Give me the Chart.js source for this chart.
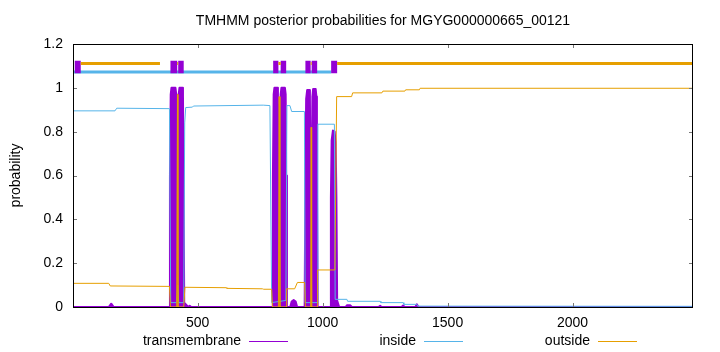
<!DOCTYPE html>
<html>
<head>
<meta charset="utf-8">
<script src="https://cdn.jsdelivr.net/npm/chart.js@4.4.0/dist/chart.umd.min.js"></script>
<style>
  html, body { margin: 0; padding: 0; background: #fff; }
  #wrap { width: 720px; height: 352px; }
</style>
</head>
<body>
<div id="wrap"><canvas id="chart" width="720" height="352"></canvas></div>
<script>
// TMHMM posterior probabilities
const titleText = 'TMHMM posterior probabilities for MGYG000000665_00121';
const seqLength = 2482;
const xTicks = [500, 1000, 1500, 2000];
const yTicks = [0, 0.2, 0.4, 0.6, 0.8, 1, 1.2];

// predicted topology (residue ranges)
const tmSegments = [[8, 32], [391, 418], [422, 444], [802, 823], [832, 854], [931, 952], [956, 978], [1034, 1058]];
const insideSegments = [[1, 1034]];
const outsideSegments = [[32, 349], [418, 422], [823, 832], [952, 956], [1058, 2482]];

// posterior probability curves [residue, probability]
const tmProb = [
  [1, 0], [144, 0], [154, 0.015], [164, 0], [386, 0], [389, 0.6], [392, 0.97], [395, 1], [411, 1], [414, 0.97],
  [416, 0.6], [419, 0.01], [421, 0.6], [424, 0.97], [427, 1], [438, 1], [441, 0.97], [443, 0.6], [446, 0.02],
  [462, 0], [468, 0.006], [474, 0],
  [799, 0], [801, 0.6], [804, 0.97], [807, 1], [818, 1], [821, 0.97], [823, 0.6], [826, 0.01], [829, 0.6],
  [832, 0.97], [835, 1], [849, 1], [852, 0.97], [854, 0.6], [857, 0],
  [870, 0], [876, 0.025], [884, 0.032], [892, 0.025], [898, 0],
  [928, 0], [931, 0.6], [934, 0.95], [938, 0.99], [946, 0.99], [949, 0.95], [951, 0.6], [954, 0.05], [956, 0.6],
  [959, 0.96], [962, 0.995], [972, 0.995], [975, 0.96], [977, 0.6], [980, 0],
  [1030, 0], [1033, 0.5], [1036, 0.76], [1041, 0.805], [1048, 0.8], [1052, 0.75], [1055, 0.5], [1058, 0.03],
  [1066, 0], [1092, 0], [1097, 0.008], [1110, 0.008], [1117, 0], [1224, 0], [1230, 0.006], [1236, 0], [1316, 0],
  [1322, 0.007], [1328, 0], [1371, 0], [1377, 0.012], [1383, 0], [2482, 0]
];
const insideProb = [
  [1, 0.895], [169, 0.895], [176, 0.907], [387, 0.905], [392, 0.02], [416, 0.02], [420, 0.1], [424, 0.02],
  [444, 0.02], [448, 0.84], [452, 0.91], [479, 0.912], [483, 0.917], [762, 0.921], [789, 0.919], [796, 0.02],
  [853, 0.03], [857, 0.919], [869, 0.919], [876, 0.892], [927, 0.892], [930, 0.02], [978, 0.02], [981, 0.834],
  [1047, 0.834], [1050, 0.035], [1097, 0.035], [1100, 0.026], [1230, 0.026], [1233, 0.02], [1322, 0.02],
  [1325, 0.012], [1377, 0.012], [1381, 0.004], [2482, 0.003]
];
const outsideProb = [
  [1, 0.108], [144, 0.108], [150, 0.096], [387, 0.094], [391, 0], [416, 0], [419, 0.97], [421, 0], [444, 0],
  [449, 0.09], [614, 0.088], [617, 0.085], [759, 0.083], [764, 0.081], [796, 0.081], [799, 0], [823, 0],
  [826, 0.96], [829, 0], [854, 0], [856, 0.083], [888, 0.083], [899, 0.112], [928, 0.112], [931, 0], [952, 0],
  [954, 0.82], [956, 0], [978, 0], [980, 0.169], [1049, 0.169], [1056, 0.96], [1116, 0.96], [1120, 0.977],
  [1237, 0.977], [1241, 0.985], [1329, 0.985], [1332, 0.991], [1387, 0.991], [1390, 0.998], [2482, 0.998]
];

const tmColor = '#9400d3';
const insideColor = '#56b4e9';
const outsideColor = '#e69f00';
const font = '"Liberation Sans", Arial, sans-serif';

const toPoints = pairs => pairs.map(([x, y]) => ({ x, y }));
const segmentPoints = (segs, level) =>
  segs.flatMap(([a, b]) => [{ x: a, y: level }, { x: b, y: level }, { x: b, y: null }]);

const frame = {
  id: 'frame',
  afterDraw(chart) {
    const { ctx, chartArea: a, scales: { x, y } } = chart;
    ctx.save();
    ctx.strokeStyle = '#777';
    ctx.lineWidth = 1;
    ctx.beginPath();
    xTicks.forEach(v => {
      const px = Math.round(x.getPixelForValue(v)) + 0.5;
      ctx.moveTo(px, a.bottom); ctx.lineTo(px, a.bottom - 4);
      ctx.moveTo(px, a.top); ctx.lineTo(px, a.top + 4);
    });
    yTicks.forEach(v => {
      const py = Math.round(y.getPixelForValue(v)) + 0.5;
      ctx.moveTo(a.left, py); ctx.lineTo(a.left + 4, py);
      ctx.moveTo(a.right, py); ctx.lineTo(a.right - 4, py);
    });
    ctx.stroke();
    ctx.strokeStyle = '#000';
    ctx.strokeRect(a.left + 0.5, a.top + 0.5, a.right - a.left - 1, a.bottom - a.top);

    ctx.fillStyle = '#000';
    ctx.font = '14px ' + font;
    ctx.textAlign = 'center';
    ctx.textBaseline = 'middle';
    ctx.fillText(titleText, (a.left + a.right) / 2, 21);

    // legend, gnuplot style: text then sample
    const items = [['transmembrane', tmColor, 249], ['inside', insideColor, 424], ['outside', outsideColor, 598]];
    ctx.textAlign = 'right';
    items.forEach(([label, color, sx]) => {
      ctx.fillStyle = '#000';
      ctx.fillText(label, sx - 8, 341);
      ctx.strokeStyle = color;
      ctx.beginPath();
      ctx.moveTo(sx, 341.5); ctx.lineTo(sx + 39, 341.5);
      ctx.stroke();
    });

    ctx.translate(16, (a.top + a.bottom) / 2);
    ctx.rotate(-Math.PI / 2);
    ctx.textAlign = 'center';
    ctx.fillStyle = '#000';
    ctx.fillText('probability', 0, 0);
    ctx.restore();
  }
};

new Chart(document.getElementById('chart'), {
  type: 'line',
  data: {
    datasets: [
      { label: 'outside top', data: segmentPoints(outsideSegments, 1.111), borderColor: outsideColor, borderWidth: 3, order: 0 },
      { label: 'tm top', data: segmentPoints(tmSegments, 1.095), borderColor: tmColor, borderWidth: 12.6, order: 1 },
      { label: 'inside top', data: segmentPoints(insideSegments, 1.072), borderColor: insideColor, borderWidth: 3, order: 2 },
      { label: 'outside', data: toPoints(outsideProb), borderColor: outsideColor, borderWidth: 1, order: 3 },
      { label: 'inside', data: toPoints(insideProb), borderColor: insideColor, borderWidth: 1, order: 4 },
      { label: 'transmembrane', data: toPoints(tmProb), borderColor: tmColor, backgroundColor: tmColor,
        borderWidth: 2, fill: 'origin', order: 5 }
    ]
  },
  options: {
    responsive: false,
    animation: false,
    events: [],
    spanGaps: false,
    elements: { point: { radius: 0 }, line: { tension: 0, borderJoinStyle: 'round' } },
    layout: { padding: { top: 44, right: 27, bottom: 0, left: 0 } },
    plugins: { legend: { display: false }, tooltip: { enabled: false }, title: { display: false } },
    scales: {
      x: {
        type: 'linear', min: 1, max: seqLength,
        grid: { display: false, drawTicks: false },
        border: { display: false },
        afterBuildTicks: s => { s.ticks = xTicks.map(v => ({ value: v })); },
        afterFit: s => { s.height = 45; },
        ticks: { padding: 8, color: '#000', font: { family: font, size: 14 }, maxRotation: 0,
          callback: v => String(v) }
      },
      y: {
        min: 0, max: 1.2,
        grid: { display: false, drawTicks: false },
        border: { display: false },
        afterBuildTicks: s => { s.ticks = yTicks.map(v => ({ value: v })); },
        afterFit: s => { s.width = 73; },
        ticks: { padding: 10, color: '#000', font: { family: font, size: 14 },
          callback: v => String(Math.round(v * 10) / 10) }
      }
    }
  },
  plugins: [frame]
});
</script>
</body>
</html>
